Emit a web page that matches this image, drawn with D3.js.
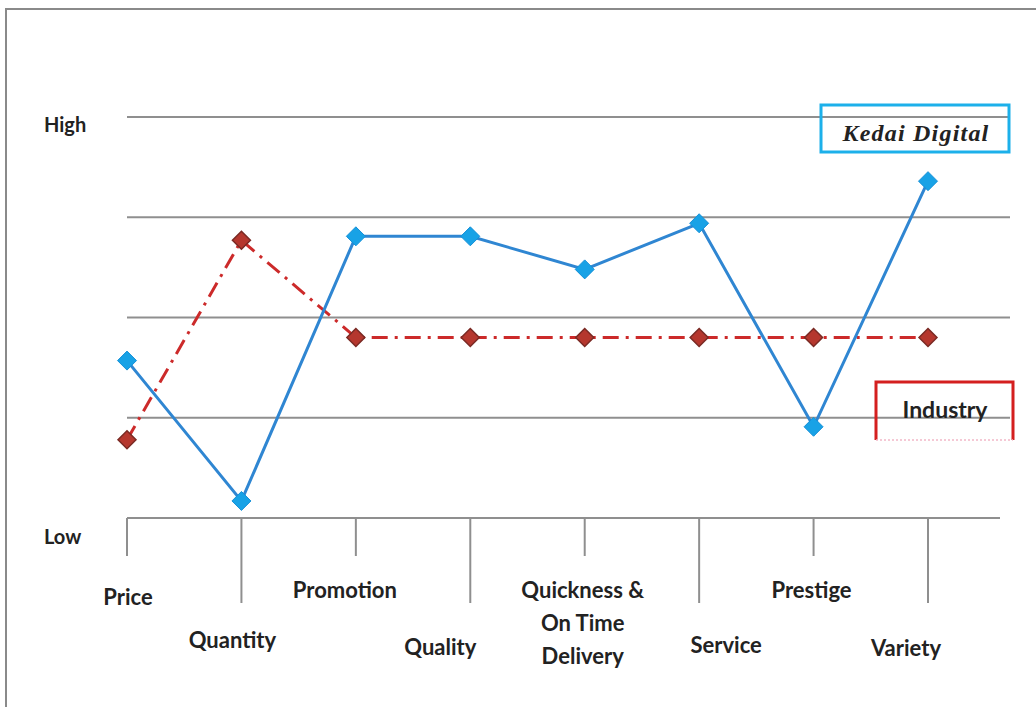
<!DOCTYPE html>
<html>
<head>
<meta charset="utf-8">
<script src="https://cdn.jsdelivr.net/npm/d3@7"></script>
<style>
  html, body { margin: 0; padding: 0; background: #fff; }
  svg { display: block; }
</style>
</head>
<body>
<div id="chart"></div>
<script>
(function () {
  'use strict';

  // data (0 = Low, 4 = High)
  var categories = ['Price', 'Quantity', 'Promotion', 'Quality', 'Quickness &\nOn Time\nDelivery', 'Service', 'Prestige', 'Variety'];
  var kedaiDigital = [1.57, 0.17, 2.81, 2.81, 2.48, 2.94, 0.91, 3.36];
  var industry = [0.78, 2.77, 1.80, 1.80, 1.80, 1.80, 1.80, 1.80];
  var levels = [0, 1, 2, 3, 4];
  var levelLabels = { 0: 'Low', 4: 'High' };

  // small label nudges so the text sits where the original put it
  var labelDx = [1, -9, -11, -30, -2, 27, -2, -22];
  var labelDy = [7, -5, 0, 2, 0, 0, 0, 3];

  var width = 1036;
  var height = 707;

  var x = d3.scalePoint().domain(d3.range(categories.length)).range([127, 928]);
  var y = d3.scaleLinear().domain([0, 4]).range([518, 117]);

  var svg = d3.select('#chart').append('svg')
    .attr('width', width).attr('height', height)
    .attr('viewBox', [0, 0, width, height]);

  // outer frame
  svg.append('rect')
    .attr('x', 6).attr('y', 9).attr('width', width + 20).attr('height', height + 20)
    .attr('fill', 'none').attr('stroke', '#8a8a8a').attr('stroke-width', 2);

  // horizontal gridlines
  svg.append('g').selectAll('line').data(levels).join('line')
    .attr('x1', 127)
    .attr('x2', function (d) { return d === 0 ? 1000 : 1010; })
    .attr('y1', function (d) { return y(d); })
    .attr('y2', function (d) { return y(d); })
    .attr('stroke', '#8f8f8f').attr('stroke-width', 2);

  // level labels
  svg.append('g').attr('font-family', 'Lato, "Open Sans", sans-serif')
    .attr('font-weight', 'bold').attr('font-size', 20).attr('fill', '#222')
    .selectAll('text').data(levels.filter(function (d) { return levelLabels[d]; })).join('text')
    .attr('x', 44)
    .attr('y', function (d) { return y(d) + (d === 0 ? 26 : 15); })
    .text(function (d) { return levelLabels[d]; });

  // category ticks (alternating short / long)
  svg.append('g').selectAll('line').data(d3.range(categories.length)).join('line')
    .attr('x1', function (d) { return x(d); })
    .attr('x2', function (d) { return x(d); })
    .attr('y1', y(0))
    .attr('y2', function (d) { return d % 2 ? 603 : 556; })
    .attr('stroke', '#8f8f8f').attr('stroke-width', 2);

  // category labels
  var cat = svg.append('g').attr('font-family', 'Lato, "Open Sans", sans-serif')
    .attr('font-weight', 'bold').attr('font-size', 22).attr('fill', '#222')
    .attr('text-anchor', 'middle')
    .selectAll('text').data(categories).join('text')
    .attr('transform', function (d, i) {
      return 'translate(' + (x(i) + labelDx[i]) + ',' + ((i % 2 ? 645 : 590) + labelDy[i]) + ')';
    });
  cat.selectAll('tspan').data(function (d) { return d.split('\n'); }).join('tspan')
    .attr('x', 0)
    .attr('y', function (d, i) { return i * 33; })
    .attr('dy', '0.35em')
    .text(function (d) { return d; });

  var line = d3.line()
    .x(function (d, i) { return x(i); })
    .y(function (d) { return y(d); });

  // Industry series
  svg.append('path').datum(industry)
    .attr('d', line)
    .attr('fill', 'none').attr('stroke', '#cc2a2a').attr('stroke-width', 3)
    .attr('stroke-dasharray', '16,7,3,7');

  // Kedai Digital series
  svg.append('path').datum(kedaiDigital)
    .attr('d', line)
    .attr('fill', 'none').attr('stroke', '#2f86d2').attr('stroke-width', 3);

  var diamond = function (s) {
    return 'M0,' + (-s) + 'L' + s + ',0L0,' + s + 'L' + (-s) + ',0Z';
  };

  svg.append('g').selectAll('path').data(industry).join('path')
    .attr('transform', function (d, i) { return 'translate(' + x(i) + ',' + y(d) + ')'; })
    .attr('d', diamond(9))
    .attr('fill', '#b5372e').attr('stroke', '#7a2a24').attr('stroke-width', 1.5);

  svg.append('g').selectAll('path').data(kedaiDigital).join('path')
    .attr('transform', function (d, i) { return 'translate(' + x(i) + ',' + y(d) + ')'; })
    .attr('d', diamond(9.5))
    .attr('fill', '#18a2e6').attr('stroke', '#1590d8').attr('stroke-width', 1);

  // legend boxes
  var kd = svg.append('g');
  kd.append('rect')
    .attr('x', 821).attr('y', 105).attr('width', 188).attr('height', 47)
    .attr('fill', 'none').attr('stroke', '#1cb0ea').attr('stroke-width', 3);
  kd.append('text')
    .attr('x', 916).attr('y', 141).attr('text-anchor', 'middle')
    .attr('font-family', '"Liberation Serif", "DejaVu Serif", serif')
    .attr('font-style', 'italic').attr('font-weight', 'bold').attr('font-size', 24)
    .attr('letter-spacing', 1.2)
    .attr('fill', '#222')
    .text('Kedai Digital');

  var ind = svg.append('g');
  ind.append('path')
    .attr('d', 'M876,440V382H1013V440')
    .attr('fill', 'none').attr('stroke', '#d41f1f').attr('stroke-width', 3);
  ind.append('line')
    .attr('x1', 876).attr('x2', 1013).attr('y1', 440).attr('y2', 440)
    .attr('stroke', '#f2b8c8').attr('stroke-width', 1.5).attr('stroke-dasharray', '2,2');
  ind.append('text')
    .attr('x', 945).attr('y', 418).attr('text-anchor', 'middle')
    .attr('font-family', 'Lato, "Open Sans", sans-serif')
    .attr('font-weight', 'bold').attr('font-size', 23).attr('fill', '#222')
    .text('Industry');
})();
</script>
</body>
</html>
